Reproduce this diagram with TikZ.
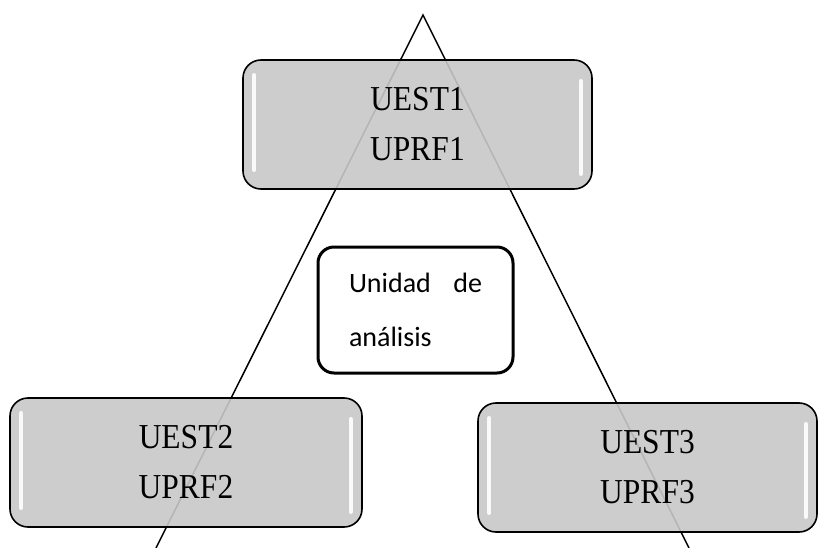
\documentclass[tikz,border=0pt]{standalone}
\usepackage{fontspec}
\setmainfont{Liberation Serif}
\newfontfamily\unitserif[FakeStretch=0.9]{Liberation Serif}
\newfontfamily\boxsans{Carlito}
\definecolor{boxgray}{RGB}{200,200,200}

\begin{document}
\begin{tikzpicture}[x=1pt, y=-1pt,
  unitbox/.style={draw, line width=1.6pt, rounded corners=18pt, fill=boxgray, fill opacity=0.9, text opacity=1,
    minimum height=129pt, align=center, font=\unitserif\fontsize{35}{50}\selectfont},
  gloss/.style={white, line width=4.5pt, line cap=round, opacity=0.9}]
  \useasboundingbox (0,0) rectangle (819,548);

  % triangle behind the boxes
  \coordinate (apex) at (423,15);
  \coordinate (baseL) at (156,548);
  \coordinate (baseR) at (689,548);
  \draw[line width=1.5pt] (baseL) -- (apex) -- (baseR);

  \node[unitbox, minimum width=349pt] (u1) at (417.5,124.5) {UEST1\\UPRF1};
  \node[unitbox, minimum width=352pt] (u2) at (186,462.5) {UEST2\\UPRF2};
  \node[unitbox, minimum width=339pt] (u3) at (647.5,467.5) {UEST3\\UPRF3};

  \node[draw, line width=3pt, rounded corners=16pt, minimum width=195pt, minimum height=126pt,
    text width=133pt, align=left, font=\boxsans\fontsize{28}{54}\selectfont] (unidad) at (415.5,310)
    {Unidad\hfill de\\análisis};

  % highlights
  \foreach \n in {u1,u2,u3} {
    \draw[gloss] ([xshift=12pt,yshift=-16pt]\n.north west) -- ([xshift=12pt,yshift=20pt]\n.south west);
    \draw[gloss] ([xshift=-12pt,yshift=-22pt]\n.north east) -- ([xshift=-12pt,yshift=16pt]\n.south east);
  }
\end{tikzpicture}
\end{document}
